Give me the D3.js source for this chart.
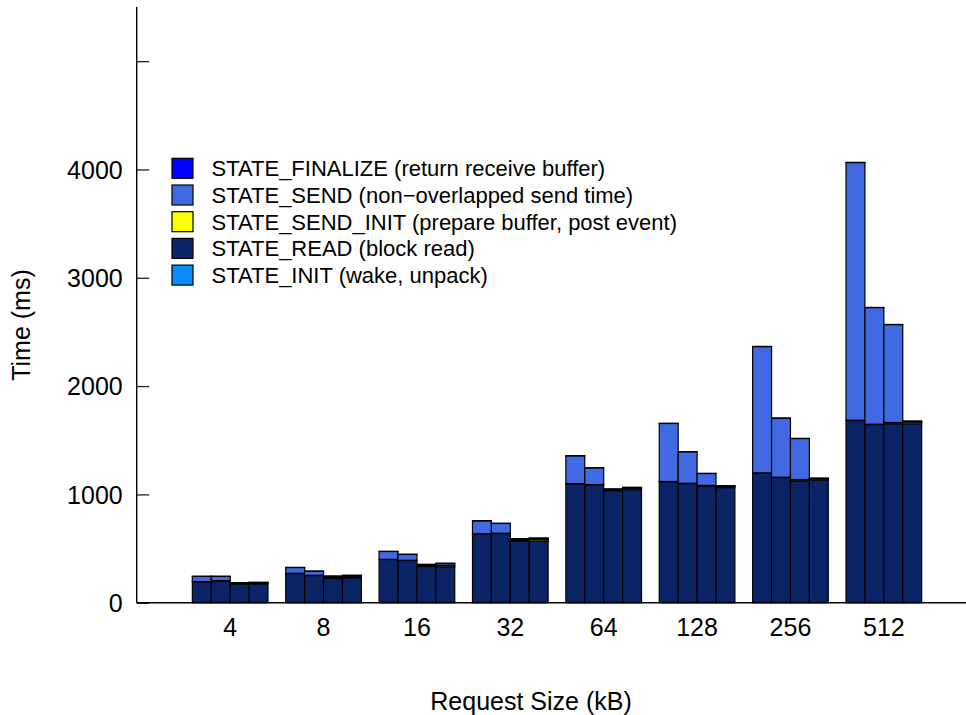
<!DOCTYPE html>
<html>
<head>
<meta charset="utf-8">
<script src="https://cdn.jsdelivr.net/npm/d3@7"></script>
<style>
    body { margin: 0; background: #fff; }
    svg { display: block; font-family: "Liberation Sans", Arial, sans-serif; }
</style>
</head>
<body>
<div id="chart"></div>
<script>
// Request sizes (kB), one group per size
const sizes = ['4', '8', '16', '32', '64', '128', '256', '512'];

// Per-state times (ms), [group][bar], four bars per group
const stateInit = [
    [2, 2, 2, 2], [2, 2, 2, 2], [2, 2, 2, 2], [2, 2, 2, 2],
    [2, 2, 2, 2], [2, 2, 2, 2], [2, 2, 2, 2], [2, 2, 2, 2]
];
const stateRead = [
    [191, 200, 168, 172],
    [268, 249, 222, 228],
    [397, 388, 332, 330],
    [631, 637, 569, 567],
    [1095, 1086, 1032, 1040],
    [1114, 1098, 1071, 1061],
    [1194, 1154, 1123, 1130],
    [1680, 1643, 1650, 1650]
];
const stateSendInit = [
    [2, 2, 8, 8],
    [2, 2, 10, 10],
    [2, 2, 10, 14],
    [3, 3, 10, 14],
    [3, 3, 10, 12],
    [3, 3, 10, 12],
    [3, 3, 12, 12],
    [3, 3, 12, 15]
];
const stateSend = [
    [48, 39, 6, 5],
    [53, 38, 11, 12],
    [72, 54, 9, 17],
    [120, 90, 9, 13],
    [256, 154, 5, 10],
    [536, 290, 110, 4],
    [1166, 545, 379, 5],
    [2379, 1077, 904, 9]
];
const stateFinalize = [
    [1, 1, 1, 1], [1, 1, 1, 1], [1, 1, 1, 1], [1, 1, 1, 1],
    [1, 1, 1, 1], [1, 1, 1, 1], [1, 1, 1, 1], [1, 1, 1, 1]
];

const yTicks = [0, 1000, 2000, 3000, 4000, 5000];
const yTickLabels = ['0', '1000', '2000', '3000', '4000', ''];

// stack order bottom -> top
const states = [
    { key: 'init', label: 'STATE_INIT (wake, unpack)', color: '#0a8cff', values: stateInit },
    { key: 'read', label: 'STATE_READ (block read)', color: '#0a2466', values: stateRead },
    { key: 'sendInit', label: 'STATE_SEND_INIT (prepare buffer, post event)', color: '#ffff00', values: stateSendInit },
    { key: 'send', label: 'STATE_SEND (non\u2212overlapped send time)', color: '#4169e1', values: stateSend },
    { key: 'finalize', label: 'STATE_FINALIZE (return receive buffer)', color: '#0000ff', values: stateFinalize }
];

const width = 966, height = 715;
const svg = d3.select('#chart').append('svg')
    .attr('width', width)
    .attr('height', height);

// flat rows for d3.stack
const rows = [];
sizes.forEach((s, gi) => {
    for (let b = 0; b < 4; b++) {
        const row = { size: s, bar: b };
        states.forEach(st => { row[st.key] = st.values[gi][b]; });
        rows.push(row);
    }
});

const stacked = d3.stack().keys(states.map(s => s.key))(rows);

// Escalas
const x = d3.scaleBand()
    .domain(sizes)
    .range([183, 931])
    .paddingInner(0.19)
    .paddingOuter(0.1);

const xBar = d3.scaleBand()
    .domain([0, 1, 2, 3])
    .range([0, x.bandwidth()]);

const y = d3.scaleLinear()
    .domain([0, 5500])
    .range([602.7, 7]);

const axisX = 136.7;

// Barras
stacked.forEach((layer, li) => {
    svg.append('g')
        .attr('fill', states[li].color)
        .selectAll('rect')
        .data(layer)
        .enter()
        .append('rect')
        .attr('x', d => x(d.data.size) + xBar(d.data.bar))
        .attr('y', d => y(d[1]))
        .attr('width', xBar.bandwidth())
        .attr('height', d => Math.max(0, y(d[0]) - y(d[1])))
        .attr('stroke', '#000')
        .attr('stroke-width', 1.2);
});

// Eixo Y
const yAxis = svg.append('g')
    .attr('transform', `translate(${axisX},0)`)
    .call(d3.axisRight(y)
        .tickValues(yTicks)
        .tickSize(12.5)
        .tickFormat((d, i) => yTickLabels[i]));
yAxis.select('.domain').remove();
yAxis.selectAll('.tick line').attr('stroke', '#222').attr('stroke-width', 1.3);
yAxis.selectAll('.tick text')
    .attr('x', -14)
    .attr('text-anchor', 'end')
    .attr('dy', '0.35em')
    .style('font-size', '25px')
    .style('font-family', '"Liberation Sans", Arial, sans-serif')
    .attr('fill', '#000');

svg.append('line')
    .attr('x1', axisX).attr('x2', axisX)
    .attr('y1', y(5500)).attr('y2', y(0))
    .attr('stroke', '#000').attr('stroke-width', 1.4);

// Eixo X
const xAxis = svg.append('g')
    .attr('transform', `translate(0,${y(0)})`)
    .call(d3.axisBottom(x).tickSize(0).tickPadding(16));
xAxis.select('.domain').remove();
xAxis.selectAll('.tick text')
    .attr('dy', '0.71em')
    .style('font-size', '25px')
    .style('font-family', '"Liberation Sans", Arial, sans-serif')
    .attr('fill', '#000');

svg.append('line')
    .attr('x1', axisX).attr('x2', width)
    .attr('y1', y(0)).attr('y2', y(0))
    .attr('stroke', '#000').attr('stroke-width', 1.4);

// Títulos dos eixos
svg.append('text')
    .attr('x', 531)
    .attr('y', 710)
    .attr('text-anchor', 'middle')
    .style('font-size', '25px')
    .text('Request Size (kB)');

svg.append('text')
    .attr('transform', 'translate(30,325) rotate(-90)')
    .attr('text-anchor', 'middle')
    .style('font-size', '25px')
    .text('Time (ms)');

// Legenda (ordem inversa da pilha)
const legend = svg.append('g')
    .attr('transform', 'translate(172,158.3)');

const items = legend.selectAll('g')
    .data(states.slice().reverse())
    .enter()
    .append('g')
    .attr('transform', (d, i) => `translate(0,${i * 26.7})`);

items.append('rect')
    .attr('width', 21)
    .attr('height', 20)
    .attr('fill', d => d.color)
    .attr('stroke', '#000')
    .attr('stroke-width', 1.2);

items.append('text')
    .attr('x', 39.5)
    .attr('y', 10)
    .attr('dy', '0.36em')
    .style('font-size', '22px')
    .text(d => d.label);
</script>
</body>
</html>
